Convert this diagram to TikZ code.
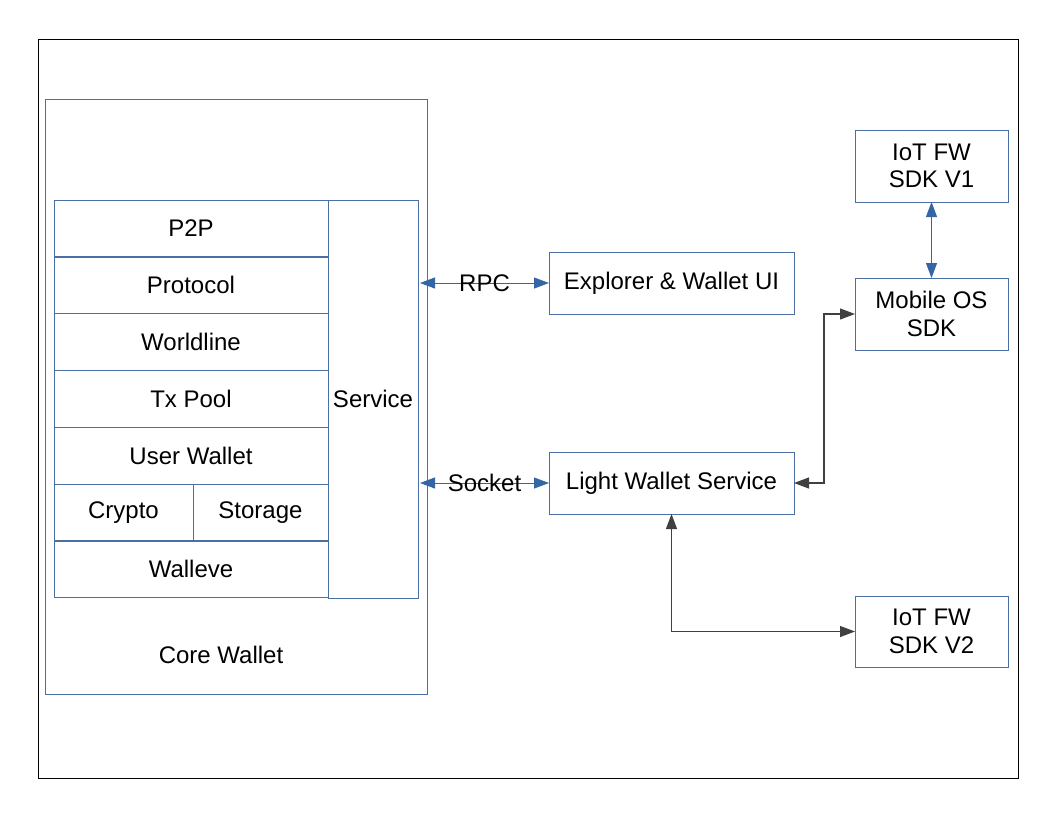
\documentclass[tikz,border=0pt]{standalone}
\usepackage{fontspec}
\setmainfont{Liberation Sans}
\usetikzlibrary{arrows.meta,positioning}
\definecolor{boxblue}{RGB}{74,111,165}
\definecolor{arrowblue}{RGB}{52,101,164}
\tikzset{
  box/.style={draw=boxblue, line width=0.9pt, inner sep=0pt, outer sep=0pt,
    align=center, font=\fontsize{24}{27.5}\selectfont},
  layer/.style={box, minimum width=274pt, minimum height=57pt},
  ext/.style={box, minimum width=153pt, minimum height=72pt},
  bluelink/.style={draw=arrowblue, line width=0.9pt,
    {Triangle[length=15pt,width=11pt]}-{Triangle[length=15pt,width=11pt]}},
  blacklink/.style={draw=black!75, line width=1.1pt,
    {Triangle[length=15pt,width=11pt]}-{Triangle[length=15pt,width=11pt]}}
}
\begin{document}
\begin{tikzpicture}[x=1pt,y=-1pt]
  \useasboundingbox (0,0) rectangle (1056,816);
  \draw[line width=0.8pt] (38,39) rectangle (1018,778);
  % core wallet
  \node[box, minimum width=382pt, minimum height=595pt] (core) at (236,396.5) {};
  \node[font=\fontsize{24}{27.5}\selectfont] (corelabel) at (221,655) {Core Wallet};
  \node[layer] (p2p) at (191,228.5) {P2P};
  \node[layer] (protocol) at (191,285) {Protocol};
  \node[layer] (worldline) at (191,341.5) {Worldline};
  \node[layer] (txpool) at (191,398.5) {Tx Pool};
  \node[layer] (userwallet) at (191,455.5) {User Wallet};
  \node[layer, minimum width=139pt] (crypto) at (123.5,512.5) {Crypto};
  \node[layer, minimum width=135pt] (storage) at (260.5,512.5) {Storage};
  \node[layer] (walleve) at (191,569) {Walleve};
  \node[box, minimum width=90pt, minimum height=398pt] (service) at (373,399) {Service};
  % outside
  \node[box, minimum width=245pt, minimum height=62pt] (explorer) at (671.5,283) {Explorer \& Wallet UI};
  \node[box, minimum width=245pt, minimum height=62pt] (light) at (671.5,483) {Light Wallet Service};
  \node[ext] (iot1) at (931.5,166) {IoT FW\\SDK V1};
  \node[ext] (mobile) at (931.5,314) {Mobile OS\\SDK};
  \node[ext, minimum height=71pt] (iot2) at (931.5,631.5) {IoT FW\\SDK V2};
  % links
  \draw[bluelink] ([xshift=2pt]service.east |- explorer.west) -- node[font=\fontsize{24}{27.5}\selectfont] {RPC} (explorer.west);
  \draw[bluelink] ([xshift=2pt]service.east |- light.west) -- node[font=\fontsize{24}{27.5}\selectfont] {Socket} (light.west);
  \draw[bluelink] (iot1.south) -- (mobile.north);
  \coordinate (bend) at (824,483);
  \draw[blacklink] (light.east) -- (bend) |- (mobile.west);
  \draw[blacklink] (light.south) |- (iot2.west);
\end{tikzpicture}
\end{document}
